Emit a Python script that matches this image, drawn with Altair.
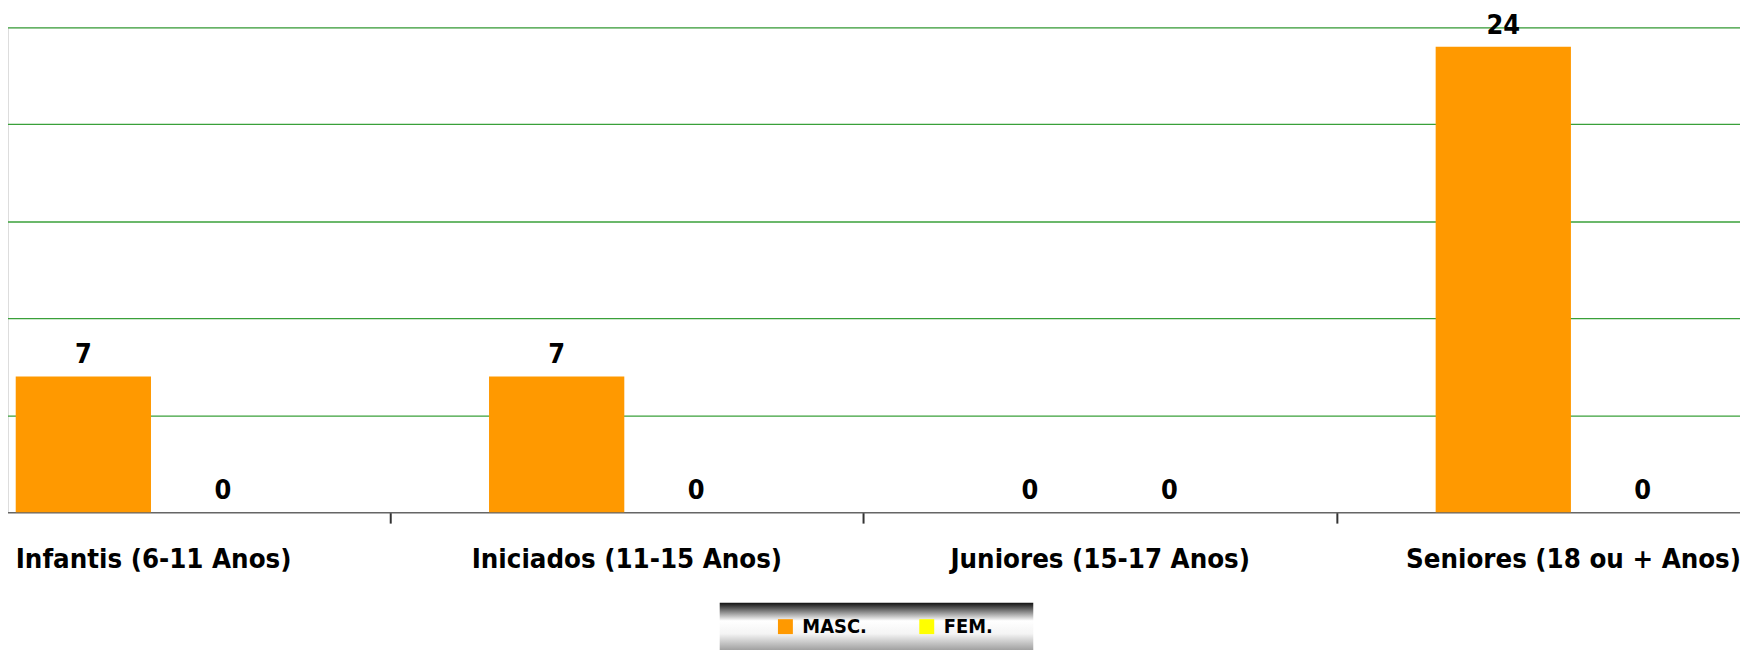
import altair as alt
import pandas as pd

categories = ["Infantis (6-11 Anos)", "Iniciados (11-15 Anos)", "Juniores (15-17 Anos)", "Seniores (18 ou + Anos)"]
series = ["MASC.", "FEM."]
masc = [7, 7, 0, 24]
fem = [0, 0, 0, 0]
colors = ["#FF9900", "#FFFF00"]

rows = []
for c, m, f in zip(categories, masc, fem):
    rows.append({"cat": c, "serie": "MASC.", "v": m})
    rows.append({"cat": c, "serie": "FEM.", "v": f})
df = pd.DataFrame(rows)

FONT = "'DejaVu Sans Condensed', 'DejaVu Sans', sans-serif"

x_enc = alt.X("cat:N", sort=categories, title=None,
              scale=alt.Scale(range=[-92, 1810], paddingInner=0, paddingOuter=0),
              axis=alt.Axis(labelAngle=0, labelFont=FONT, labelFontSize=27.5, labelFontWeight="bold",
                            labelColor="#000000", labelPadding=23, labelLimit=0, tickBand="extent",
                            tickOffset=-2, tickSize=11, tickWidth=2, tickColor="#333333",
                            domainColor="#666666", domainWidth=1.5, grid=False))
xoff_enc = alt.XOffset("serie:N", sort=series,
                       scale=alt.Scale(paddingInner=0.03, paddingOuter=0.712))
y_enc = alt.Y("v:Q", title=None,
              scale=alt.Scale(domain=[0, 25], nice=False),
              axis=alt.Axis(values=[5, 10, 15, 20, 25], labels=False, ticks=False, domain=False,
                            grid=True, gridColor="#3aa03a", gridWidth=1.3))

bars = alt.Chart(df).mark_bar().encode(
    x=x_enc,
    xOffset=xoff_enc,
    y=y_enc,
    color=alt.Color("serie:N", sort=series,
                    scale=alt.Scale(domain=series, range=colors),
                    legend=alt.Legend(title=None, orient="none", direction="horizontal",
                                      legendX=771, legendY=592, padding=0,
                                      symbolType="square", symbolSize=225, symbolStrokeWidth=0,
                                      symbolOpacity=1,
                                      labelFont=FONT, labelFontSize=20, labelFontWeight="bold",
                                      labelColor="#000000", labelOffset=7, columnPadding=50)),
)

labels = alt.Chart(df).mark_text(baseline="bottom", dy=-7, font=FONT, fontSize=27,
                                 fontWeight="bold", color="#000000").encode(
    x=alt.X("cat:N", sort=categories),
    xOffset=alt.XOffset("serie:N", sort=series),
    y=alt.Y("v:Q"),
    text=alt.Text("v:Q"),
)

box = alt.Chart(pd.DataFrame({"k": [0]})).mark_rect(
    color=alt.LinearGradient(
        gradient="linear", x1=0, y1=0, x2=0, y2=1,
        stops=[alt.GradientStop(offset=0, color="#111111"),
               alt.GradientStop(offset=0.15, color="#777777"),
               alt.GradientStop(offset=0.35, color="#ffffff"),
               alt.GradientStop(offset=0.6, color="#f4f4f4"),
               alt.GradientStop(offset=1, color="#8a8a8a")])
).encode(x=alt.value(715), x2=alt.value(1030), y=alt.value(578), y2=alt.value(630))

chart = alt.layer(box, bars, labels).properties(
    width=1740, height=487,
    padding={"left": 0, "top": 18, "right": 0, "bottom": 140},
    autosize=alt.AutoSizeParams(type="none"),
).configure_view(stroke=None).configure(background="#ffffff")

chart.save("out.html", embed_options={"renderer": "svg", "actions": False})
